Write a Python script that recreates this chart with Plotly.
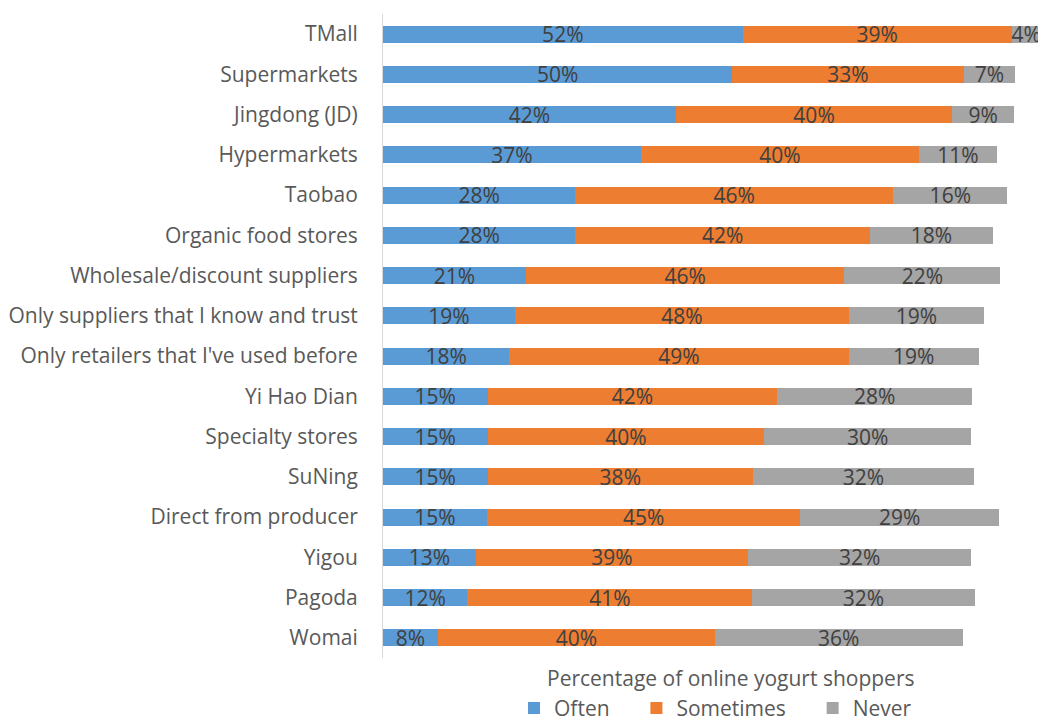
import plotly.graph_objects as go

categories = ["TMall", "Supermarkets", "Jingdong (JD)", "Hypermarkets", "Taobao",
              "Organic food stores", "Wholesale/discount suppliers",
              "Only suppliers that I know and trust", "Only retailers that I've used before",
              "Yi Hao Dian", "Specialty stores", "SuNing", "Direct from producer",
              "Yigou", "Pagoda", "Womai"]
often = [51.6, 50.1, 42.0, 37.0, 27.6, 27.6, 20.5, 18.9, 18.1, 15.0, 15.0, 15.0, 14.9, 13.3, 12.1, 7.9]
sometimes = [38.6, 33.2, 39.7, 39.9, 45.6, 42.3, 45.7, 48.0, 48.7, 41.6, 39.7, 38.1, 45.0, 39.1, 40.9, 39.7]
never = [4.2, 7.4, 8.8, 11.2, 16.4, 17.6, 22.4, 19.3, 18.7, 27.9, 29.7, 31.7, 28.5, 32.0, 31.9, 35.6]

series = [("Often", often, "#5B9BD5"),
          ("Sometimes", sometimes, "#ED7D31"),
          ("Never", never, "#A5A5A5")]

FONT = "Open Sans"
TXT = "#404040"
FS = 21
PAD = "\u00a0" * 4

fig = go.Figure()
for name, vals, color in series:
    fig.add_trace(go.Bar(
        y=categories, x=vals, name=name + PAD, orientation="h",
        marker=dict(color=color, line=dict(width=0)),
        texttemplate="%{x:.0f}%", textposition="inside",
        insidetextanchor="middle",
        textfont=dict(family=FONT, size=FS, color=TXT),
        cliponaxis=False,
    ))

fig.update_layout(
    barmode="stack",
    bargap=0.58,
    width=1046, height=726,
    margin=dict(l=375, r=11, t=6, b=76, autoexpand=False),
    paper_bgcolor="white", plot_bgcolor="white",
    font=dict(family=FONT, size=FS, color="#595959"),
    uniformtext=dict(minsize=FS, mode="show"),
    showlegend=True,
    legend=dict(orientation="h", x=0.1985, xanchor="left", y=-0.078, yanchor="middle",
                font=dict(family=FONT, size=FS, color="#595959"),
                traceorder="normal", itemwidth=30),
    annotations=[dict(text="Percentage of online yogurt shoppers", xref="paper", yref="paper",
                      x=0.528, y=-0.031, xanchor="center", yanchor="middle", showarrow=False,
                      font=dict(family=FONT, size=FS, color="#595959"))],
)
fig.update_xaxes(range=[0, 94.7], showticklabels=False, showgrid=False, zeroline=False,
                 showline=False, fixedrange=True)
fig.update_yaxes(categoryorder="array", categoryarray=categories, autorange="reversed",
                 showline=True, linecolor="#D9D9D9", linewidth=1, showgrid=False,
                 ticks="", ticklabelstandoff=20, automargin=False,
                 tickfont=dict(family=FONT, size=FS, color="#595959"))

fig.write_html("out.html")
